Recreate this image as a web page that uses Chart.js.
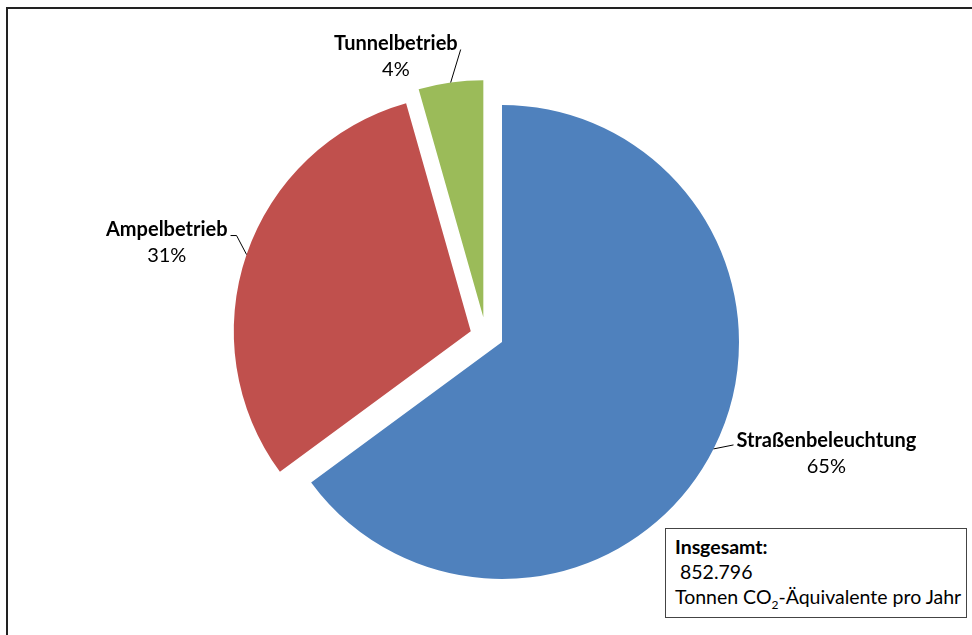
<!DOCTYPE html>
<html lang="de">
<head>
<meta charset="utf-8">
<script src="https://cdn.jsdelivr.net/npm/chart.js@4.4.0/dist/chart.umd.min.js"></script>
<style>
  html, body { margin: 0; padding: 0; background: #fff; overflow: hidden; }
  #wrap { position: relative; width: 972px; height: 635px; }
  #frame { position: absolute; left: 6px; top: 7px; width: 1000px; height: 700px;
           border-left: 2px solid #222; border-top: 2px solid #222; box-sizing: border-box; }
  #chart { position: absolute; left: 0; top: 0; }
  #total { position: absolute; left: 665px; top: 528px; width: 302px; height: 90px;
           border: 1px solid #444; box-sizing: border-box; background: #fff;
           font-family: Lato, "Open Sans", sans-serif; font-size: 19.5px; color: #000;
           padding: 5px 0 0 9px; line-height: 25px; white-space: nowrap; }
  #total b { font-weight: bold; }
  #total sub { font-size: 12px; line-height: 0; }
</style>
</head>
<body>
<div id="wrap">
  <div id="frame"></div>
  <canvas id="chart" width="972" height="635"></canvas>
  <div id="total">
    <b>Insgesamt:</b><br>
    &nbsp;852.796<br>
    Tonnen CO<sub>2</sub>-Äquivalente pro Jahr
  </div>
</div>
<script>
// Anteile am CO2-Ausstoß (Prozent, aus dem Bild geschätzt)
const kategorien = ['Straßenbeleuchtung', 'Ampelbetrieb', 'Tunnelbetrieb'];
const anteile = [64.9, 30.7, 4.4];
const farben = ['#4F81BD', '#C0504D', '#9BBB59'];

// Herausgezogene Segmente: Abstand in px, Richtung in Grad (im Uhrzeigersinn ab 12 Uhr, null = Segmentmitte)
const explosion = [0, 33, 31];
const explosionRichtung = [null, null, 323];

// Beschriftungen mit Führungslinien (Knickpunkte relativ zum Bogenrand)
const beschriftung = [
    { linie: [[20, -4]], ausrichtung: 'links', dy: 2 },
    { linie: [[-10, -19], [-16, -19]], ausrichtung: 'rechts', dy: 0 },
    { linie: [[10, -33]], ausrichtung: 'rechts', dy: 0 }
];

const schrift = 'Lato, "Open Sans", sans-serif';

// Segmente verschieben (wie "Explosion" in Excel)
const explodePlugin = {
    id: 'explode',
    afterDatasetUpdate(chart, args) {
        args.meta.data.forEach((arc, i) => {
            const d = explosion[i] || 0;
            if (!d) return;
            let ang;
            if (explosionRichtung[i] === null) {
                ang = (arc.startAngle + arc.endAngle) / 2;
            } else {
                ang = (explosionRichtung[i] - 90) * Math.PI / 180;
            }
            arc.x += Math.cos(ang) * d;
            arc.y += Math.sin(ang) * d;
        });
    }
};

const labelPlugin = {
    id: 'pieLabels',
    afterDatasetsDraw(chart) {
        const ctx = chart.ctx;
        const meta = chart.getDatasetMeta(0);
        const total = anteile.reduce((a, b) => a + b, 0);
        meta.data.forEach((arc, i) => {
            const mid = (arc.startAngle + arc.endAngle) / 2;
            const sx = arc.x + Math.cos(mid) * arc.outerRadius;
            const sy = arc.y + Math.sin(mid) * arc.outerRadius;
            const cfg = beschriftung[i];

            ctx.save();
            ctx.strokeStyle = '#000';
            ctx.lineWidth = 1;
            ctx.beginPath();
            ctx.moveTo(sx, sy);
            let ex = sx, ey = sy;
            cfg.linie.forEach(([dx, dy]) => {
                ex = sx + dx; ey = sy + dy;
                ctx.lineTo(ex, ey);
            });
            ctx.stroke();

            const name = kategorien[i];
            const pct = Math.round(anteile[i] / total * 100) + '%';
            ctx.font = 'bold 20px ' + schrift;
            const w1 = ctx.measureText(name).width;
            ctx.font = '20px ' + schrift;
            const w2 = ctx.measureText(pct).width;
            const bw = Math.max(w1, w2);
            const cx = cfg.ausrichtung === 'links' ? ex + 3 + bw / 2 : ex - 3 - bw / 2;
            const base = ey + cfg.dy;

            ctx.fillStyle = '#000';
            ctx.textAlign = 'center';
            ctx.textBaseline = 'alphabetic';
            ctx.font = 'bold 20px ' + schrift;
            ctx.fillText(name, cx, base);
            ctx.font = '20px ' + schrift;
            ctx.fillText(pct, cx, base + 26);
            ctx.restore();
        });
    }
};

new Chart(document.getElementById('chart').getContext('2d'), {
    type: 'pie',
    data: {
        labels: kategorien,
        datasets: [{
            data: anteile,
            backgroundColor: farben,
            borderWidth: 0,
            clip: false
        }]
    },
    options: {
        responsive: false,
        animation: false,
        radius: 237,
        layout: { padding: { left: 32, right: 0, top: 49, bottom: 0 } },
        plugins: {
            legend: { display: false },
            tooltip: { enabled: false }
        }
    },
    plugins: [explodePlugin, labelPlugin]
});
</script>
</body>
</html>
